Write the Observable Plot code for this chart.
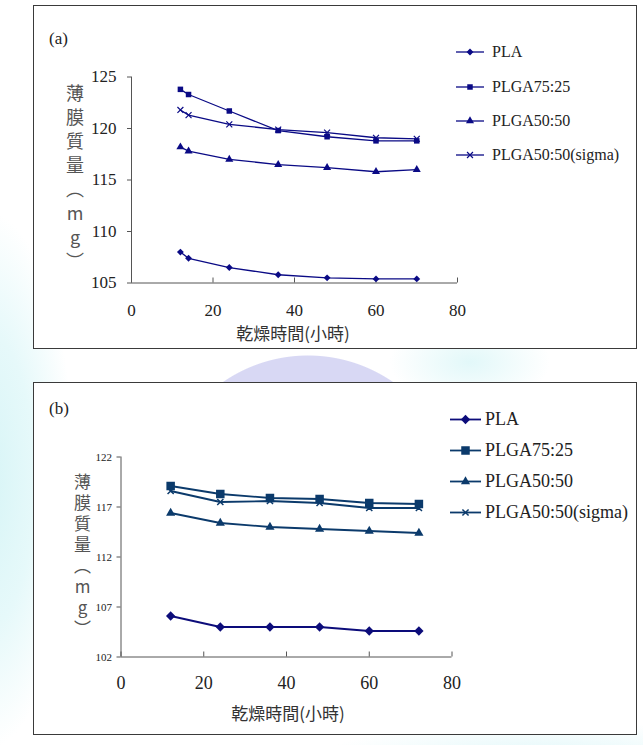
<!DOCTYPE html>
<html><head><meta charset="utf-8">
<script src="https://cdn.jsdelivr.net/npm/d3@7"></script>
<script src="https://cdn.jsdelivr.net/npm/@observablehq/plot@0.6"></script>
<style>
html,body{margin:0;padding:0}
body{width:643px;height:745px;position:relative;overflow:hidden;font-family:"Liberation Serif","Times New Roman",Times,"DejaVu Serif",serif;color:#222;
background:
 radial-gradient(circle 150px at 308px 505px, #d8d8f4 149px, rgba(216,216,244,0) 150px),
 radial-gradient(ellipse 90px 270px at -15px 480px, #d6f4f6 0%, #e6f9fa 55%, rgba(230,249,250,0) 100%),
 radial-gradient(ellipse 80px 45px at 470px 362px, #e2f8f9 0%, rgba(226,248,249,0) 100%),
 radial-gradient(ellipse 220px 40px at 540px 760px, #e0f7f9 0%, rgba(224,247,249,0) 100%),
 #fff;}
.frame{position:absolute;left:33px;width:604px;border:1.5px solid #3a3a3a;background:#fff;box-sizing:border-box}
.frame svg{position:absolute;left:0;top:0;background:transparent}
.frame svg, .frame svg text, .frame svg g{font-family:"Liberation Serif","Times New Roman",Times,"DejaVu Serif",serif !important}
.abs{position:absolute;white-space:nowrap}
.ylab{position:absolute;writing-mode:vertical-rl;text-orientation:upright;font-family:"Noto Sans CJK TC",sans-serif;color:#555}
.xlab{position:absolute;white-space:nowrap;font-family:"Noto Sans CJK TC",sans-serif;color:#333;transform:translate(-50%,-50%)}
.leg{position:absolute;display:flex;align-items:center;transform:translateY(-50%);white-space:nowrap}
</style></head>
<body>
<div id="frameA" class="frame" style="top:5px;height:344px"></div>
<div id="frameB" class="frame" style="top:382px;height:353px"></div>
<script>
// ---- data ----
const seriesNames = ["PLA", "PLGA75:25", "PLGA50:50", "PLGA50:50(sigma)"];
const seriesSymbols = ["diamond2", "square", "triangle", "times"];

const timesA = [12, 14, 24, 36, 48, 60, 70];
const plaA = [108.0, 107.4, 106.5, 105.8, 105.5, 105.4, 105.4];
const plga7525A = [123.8, 123.3, 121.7, 119.8, 119.2, 118.8, 118.8];
const plga5050A = [118.2, 117.8, 117.0, 116.5, 116.2, 115.8, 116.0];
const sigmaA = [121.8, 121.3, 120.4, 119.9, 119.6, 119.1, 119.0];

const timesB = [12, 24, 36, 48, 60, 72];
const plaB = [106.1, 105.0, 105.0, 105.0, 104.6, 104.6];
const plga7525B = [119.1, 118.3, 117.9, 117.8, 117.4, 117.3];
const plga5050B = [116.4, 115.4, 115.0, 114.8, 114.6, 114.4];
const sigmaB = [118.6, 117.5, 117.6, 117.4, 116.9, 116.9];

const xTicks = [0, 20, 40, 60, 80];
const yTicksA = [105, 110, 115, 120, 125];
const yTicksB = [102, 107, 112, 117, 122];

const xLabel = "乾燥時間(小時)";
const yLabel = "薄膜質量（mg）";

// ---- drawing ----
const serif = '"Liberation Serif","Times New Roman",Times,"DejaVu Serif",serif';
const axisColor = "#555";

function makePanel(cfg) {
  const rows = [];
  cfg.values.forEach((vals, i) => cfg.times.forEach((t, j) =>
    rows.push({series: seriesNames[i], time: t, value: vals[j]})));
  const H = cfg.height - cfg.mt - cfg.mb;
  const marks = [
    Plot.ruleY([cfg.yDomain[0]], {stroke: axisColor}),
    Plot.ruleX([0], {stroke: axisColor}),
    Plot.tickX(xTicks, {x: d => d, stroke: axisColor, insetTop: H - 5}),
    Plot.axisX({ticks: xTicks, tickSize: 0, tickPadding: cfg.xPad, fontSize: cfg.xFont, label: null, fill: "#222"}),
    Plot.axisY({ticks: cfg.yTicks, tickSize: 4, tickPadding: cfg.yPad, fontSize: cfg.yFont, label: null, fill: "#222", stroke: axisColor})
  ];
  seriesNames.forEach((s, i) => {
    const data = rows.filter(d => d.series === s);
    marks.push(Plot.line(data, {x: "time", y: "value", stroke: cfg.colors[i], strokeWidth: cfg.lineW}));
    const sym = seriesSymbols[i];
    if (sym === "times") {
      marks.push(Plot.dot(data, {x: "time", y: "value", symbol: sym, r: cfg.r[i], stroke: cfg.colors[i], strokeWidth: cfg.timesW, fill: "none"}));
    } else {
      marks.push(Plot.dot(data, {x: "time", y: "value", symbol: sym, r: cfg.r[i], fill: cfg.colors[i], stroke: "none"}));
    }
  });
  const svg = Plot.plot({
    width: cfg.width, height: cfg.height,
    marginLeft: cfg.ml, marginRight: cfg.mr, marginTop: cfg.mt, marginBottom: cfg.mb,
    x: {domain: [0, 80], axis: null},
    y: {domain: cfg.yDomain, axis: null},
    style: {fontFamily: serif, background: "transparent", color: "#222", overflow: "visible"},
    marks
  });
  document.getElementById(cfg.frame).appendChild(svg);
}

const symMap = {diamond2: d3.symbolDiamond2, square: d3.symbolSquare, triangle: d3.symbolTriangle, times: d3.symbolTimes};

function makeLegend(cfg) {
  seriesNames.forEach((s, i) => {
    const div = document.createElement("div");
    div.className = "leg";
    div.style.left = cfg.x + "px";
    div.style.top = cfg.ys[i] + "px";
    div.style.fontSize = cfg.font + "px";
    const w = cfg.lineLen, h = 16, cx = w / 2, cy = h / 2;
    const size = Math.PI * cfg.r[i] * cfg.r[i];
    const path = d3.symbol(symMap[seriesSymbols[i]], size)();
    const isTimes = seriesSymbols[i] === "times";
    div.innerHTML =
      `<svg width="${w}" height="${h}" style="display:block;overflow:visible">` +
      `<line x1="0" x2="${w}" y1="${cy}" y2="${cy}" stroke="${cfg.colors[i]}" stroke-width="${cfg.lineW}"/>` +
      `<path transform="translate(${cx},${cy})" d="${path}" ${isTimes ? `fill="none" stroke="${cfg.colors[i]}" stroke-width="${cfg.timesW}"` : `fill="${cfg.colors[i]}"`}/>` +
      `</svg><span style="margin-left:${cfg.gap}px">${s}</span>`;
    document.body.appendChild(div);
  });
}

function addText(cls, text, style) {
  const d = document.createElement("div");
  d.className = cls;
  d.textContent = text;
  Object.assign(d.style, style);
  document.body.appendChild(d);
}

const colorsA = ["#0a0a85", "#0a0a85", "#0a0a85", "#0a0a85"];
const colorsB = ["#0c0c7a", "#0b3a6b", "#0b3a6b", "#0b3a6b"];

makePanel({frame: "frameA", times: timesA, values: [plaA, plga7525A, plga5050A, sigmaA],
  width: 601, height: 341, ml: 97, mr: 178, mt: 70.5, mb: 64.5,
  yDomain: [105, 125], yTicks: yTicksA, xPad: 21, xFont: 17, yPad: 11, yFont: 17,
  colors: colorsA, lineW: 1.3, timesW: 1.2, r: [3.1, 3.1, 3.0, 2.8]});

makePanel({frame: "frameB", times: timesB, values: [plaB, plga7525B, plga5050B, sigmaB],
  width: 601, height: 350, ml: 86.5, mr: 183.5, mt: 73.5, mb: 76.5,
  yDomain: [102, 122], yTicks: yTicksB, xPad: 19, xFont: 18, yPad: 5, yFont: 11,
  colors: colorsB, lineW: 1.8, timesW: 1.5, r: [4.2, 4.8, 3.4, 2.9]});

makeLegend({x: 456, ys: [52, 87, 121, 155], font: 16, lineLen: 28, gap: 8,
  colors: colorsA, lineW: 1.3, timesW: 1.2, r: [3.1, 3.1, 3.0, 2.8]});
makeLegend({x: 450, ys: [419, 450, 481, 512], font: 18, lineLen: 31, gap: 4,
  colors: colorsB, lineW: 1.8, timesW: 1.5, r: [4.2, 4.8, 3.4, 2.9]});

addText("abs", "(a)", {left: "49px", top: "29px", fontSize: "17px"});
addText("abs", "(b)", {left: "49px", top: "399px", fontSize: "17px"});

addText("ylab", yLabel, {left: "65px", top: "84px", fontSize: "18px", letterSpacing: "6px", lineHeight: "20px"});
addText("ylab", yLabel, {left: "72px", top: "473px", fontSize: "17px", letterSpacing: "4px", lineHeight: "20px"});

addText("xlab", xLabel, {left: "293px", top: "332px", fontSize: "17px"});
addText("xlab", xLabel, {left: "288px", top: "712px", fontSize: "17px"});
</script>
</body></html>
